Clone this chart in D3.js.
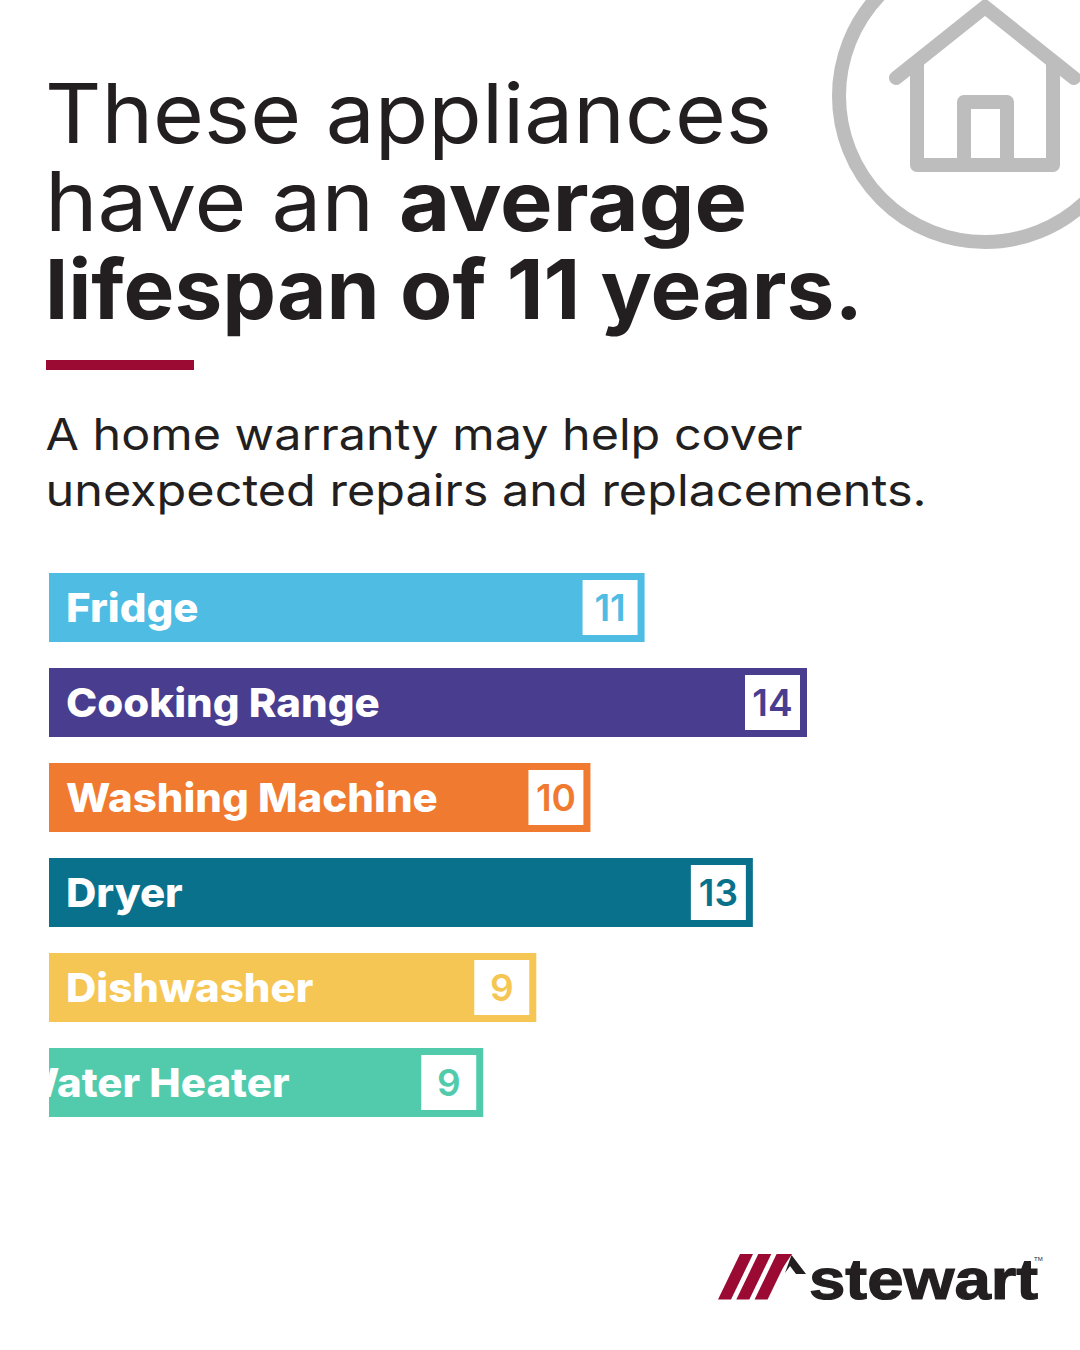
<!DOCTYPE html>
<html>
  <head>
    <title>Appliance lifespan</title>
    <meta charset="utf-8">
    <script src="https://d3js.org/d3.v7.min.js"></script>
    <style>
      html, body { margin: 0; padding: 0; background: #fff; }
      svg { display: block; }
      text { font-family: Inter, "Open Sans", sans-serif; }
    </style>
  </head>
  <body>
<svg id="chart" width="1080" height="1350"></svg>
<script>
var categories = ['Fridge', 'Cooking Range', 'Washing Machine', 'Dryer', 'Dishwasher', 'Water Heater'];
// the last bar is caught mid-animation in the picture: its length is short of its label
var barLengths = [11, 14, 10, 13, 9, 8.02];
var valueLabels = ['11', '14', '10', '13', '9', '9'];
var barColors = ['#4fbce4', '#483d8f', '#f07a30', '#0a718c', '#f6c655', '#52cbac'];

var titleLines = [
  {text: 'These appliances', weight: 400, x: 45, y: 143, len: 727},
  {text: 'have an', weight: 400, x: 45, y: 231, len: 329},
  {text: 'average', weight: 700, x: 399, y: 231, len: 348},
  {text: 'lifespan of 11 years.', weight: 700, x: 45, y: 319, len: 818}
];
var subtitleLines = [
  {text: 'A home warranty may help cover', y: 450, len: 757},
  {text: 'unexpected repairs and replacements.', y: 506, len: 881}
];

var svg = d3.select('#chart');

// icon top right
var icon = svg.append('g').attr('fill', 'none').attr('stroke', '#bdbdbd').attr('stroke-width', 14);
icon.append('circle').attr('cx', 985).attr('cy', 96).attr('r', 146);
icon.append('path').attr('d', 'M896 78L985 7L1074 78').attr('stroke-linecap', 'round').attr('stroke-linejoin', 'miter');
icon.append('path').attr('d', 'M917 60V165H1053V60').attr('stroke-linejoin', 'round');
icon.append('path').attr('d', 'M964 165V102H1007V165').attr('stroke-linejoin', 'round');

// heading
svg.selectAll('.title').data(titleLines).enter().append('text')
    .attr('class', 'title')
    .attr('x', function (d) { return d.x; })
    .attr('y', function (d) { return d.y; })
    .attr('font-size', 83)
    .attr('font-weight', function (d) { return d.weight; })
    .attr('fill', '#231f20')
    .attr('textLength', function (d) { return d.len; })
    .attr('lengthAdjust', 'spacingAndGlyphs')
    .text(function (d) { return d.text; });

svg.append('rect').attr('x', 46).attr('y', 360).attr('width', 148).attr('height', 10).attr('fill', '#9b0a33');

svg.selectAll('.subtitle').data(subtitleLines).enter().append('text')
    .attr('class', 'subtitle')
    .attr('x', 45.5)
    .attr('y', function (d) { return d.y; })
    .attr('font-size', 44)
    .attr('fill', '#231f20')
    .attr('textLength', function (d) { return d.len; })
    .attr('lengthAdjust', 'spacingAndGlyphs')
    .text(function (d) { return d.text; });

// bars
var x = d3.scaleLinear().domain([0, 14]).range([49, 807]);
var y = d3.scaleBand().domain(categories).range([573, 1117]).paddingInner(26 / 95);
var boxSize = 55;
var boxInset = (y.bandwidth() - boxSize) / 2;

svg.append('defs').append('clipPath').attr('id', 'bar-clip')
  .append('rect').attr('x', x(0)).attr('y', y.range()[0]).attr('width', x(14) - x(0)).attr('height', y.range()[1] - y.range()[0]);

var rows = svg.selectAll('.row').data(categories).enter().append('g').attr('class', 'row');

rows.append('rect')
    .attr('x', x(0))
    .attr('y', function (d) { return y(d); })
    .attr('width', function (d, i) { return x(barLengths[i]) - x(0); })
    .attr('height', y.bandwidth())
    .attr('fill', function (d, i) { return barColors[i]; });

rows.append('text')
    .attr('clip-path', 'url(#bar-clip)')
    .attr('x', function (d) { return d === 'Water Heater' ? 15 : 66; })
    .attr('y', function (d) { return y(d) + y.bandwidth() / 2 + 14; })
    .attr('font-size', 40)
    .attr('font-weight', 800)
    .attr('fill', '#fff')
    .text(function (d) { return d; })
    .attr('textLength', function () { return this.getComputedTextLength() * 1.05; })
    .attr('lengthAdjust', 'spacingAndGlyphs');

rows.append('rect')
    .attr('x', function (d, i) { return x(barLengths[i]) - boxInset - boxSize; })
    .attr('y', function (d) { return y(d) + boxInset; })
    .attr('width', boxSize)
    .attr('height', boxSize)
    .attr('fill', '#fff');

rows.append('text')
    .attr('x', function (d, i) { return x(barLengths[i]) - boxInset - boxSize / 2; })
    .attr('y', function (d) { return y(d) + y.bandwidth() / 2 + 13; })
    .attr('text-anchor', 'middle')
    .attr('font-size', 37)
    .attr('font-weight', 600)
    .attr('fill', function (d, i) { return barColors[i]; })
    .text(function (d, i) { return valueLabels[i]; });

// logo
var logo = svg.append('g');
logo.selectAll('.stripe').data([0, 1, 2]).enter().append('path')
    .attr('fill', '#9b0a33')
    .attr('d', function (d) {
      var b = 718 + d * 18.3, t = 740 + d * 18.3;
      return 'M' + b + ' 1299.5L' + t + ' 1254H' + (t + 13) + 'L' + (b + 13) + ' 1299.5Z';
    });
logo.append('path').attr('fill', '#9b0a33').attr('d', 'M779 1254H792L780 1272Z');
logo.append('path').attr('fill', '#231f20').attr('d', 'M791.5 1255L806 1274H796L790 1266L785 1273Z');
logo.append('text')
    .attr('x', 809).attr('y', 1299)
    .attr('font-size', 58)
    .attr('font-weight', 700)
    .attr('fill', '#231f20')
    .attr('stroke', '#231f20')
    .attr('stroke-width', 1.2)
    .attr('textLength', 229)
    .attr('lengthAdjust', 'spacingAndGlyphs')
    .style('font-family', '"Liberation Sans", Arial, sans-serif')
    .text('stewart');
logo.append('text')
    .attr('x', 1034).attr('y', 1261)
    .attr('font-size', 6)
    .attr('fill', '#231f20')
    .style('font-family', '"Liberation Sans", Arial, sans-serif')
    .text('TM');
</script>
</body>
</html>
